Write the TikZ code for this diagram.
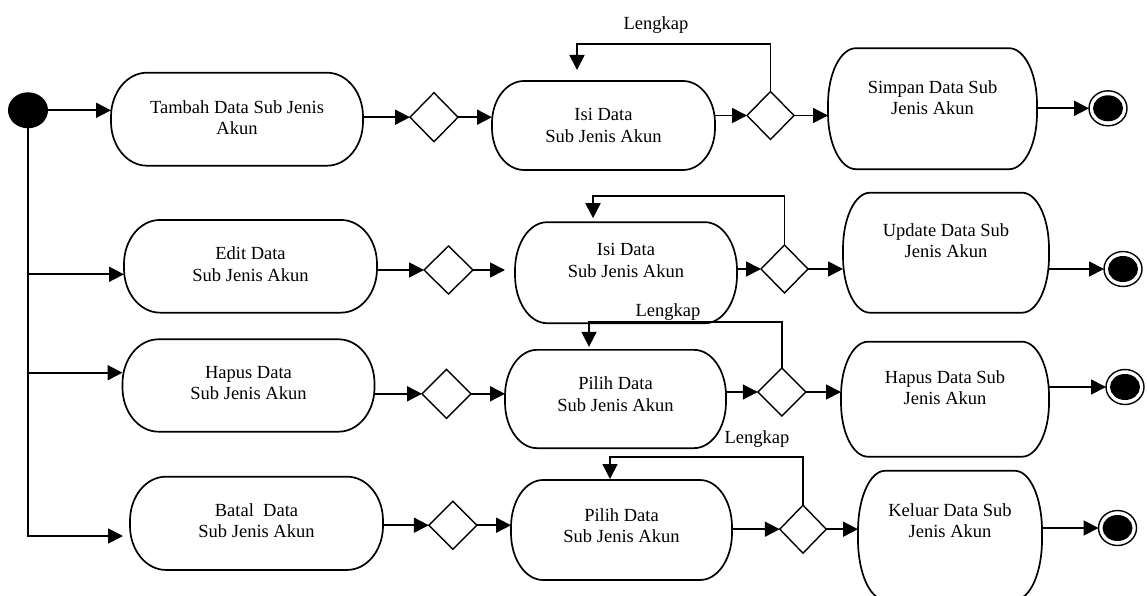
\documentclass[tikz,border=0pt]{standalone}
\usepackage{fontspec}
\setmainfont{Liberation Serif}
\usetikzlibrary{arrows.meta,shapes.geometric}
\newcommand\rbox[3]{%
  \draw[boxline] ([xshift=#2]#1.north west) -- ([xshift=-#2]#1.north east)
    arc[start angle=90,end angle=0,x radius=#2,y radius=#3]
    -- ([yshift=#3]#1.south east)
    arc[start angle=0,end angle=-90,x radius=#2,y radius=#3]
    -- ([xshift=#2]#1.south west)
    arc[start angle=-90,end angle=-180,x radius=#2,y radius=#3]
    -- ([yshift=-#3]#1.north west)
    arc[start angle=180,end angle=90,x radius=#2,y radius=#3]
    -- cycle;}
\begin{document}
\begin{tikzpicture}[x=1pt,y=1pt,
  font=\fontsize{18.5pt}{21.5pt}\selectfont,
  line/.style={line width=1.8pt},
  arr/.style={line width=1.8pt,-{Triangle[length=15pt,width=15pt]}},
  boxline/.style={line width=1.7pt},
  box/.style={rectangle,inner sep=0pt,outer sep=0pt},
  dia/.style={diamond,draw,line width=1.4pt,inner sep=0pt,outer sep=0pt,minimum width=48pt,minimum height=48pt},
  tl/.style={align=center},
  startn/.style={ellipse,fill=black,minimum width=40pt,minimum height=36pt,inner sep=0pt,outer sep=0pt},
  endn/.style={ellipse,draw,line width=1.4pt,minimum width=38pt,minimum height=35pt,inner sep=0pt,outer sep=0pt,
    path picture={\fill[black] (path picture bounding box.center) ellipse [x radius=15pt,y radius=13pt];}}]
\useasboundingbox[fill=white] (0,0) rectangle (1147,-596);

% ---------- row 1 ----------
\node[startn] (s) at (28,-110.3) {};
\node[box,minimum width=252pt,minimum height=93pt,
  label={[tl,yshift=1.7pt]center:{Tambah Data Sub Jenis\\Akun}}] (tambah) at (237,-119.2) {};
\node[dia,minimum height=49pt] (d1) at (434,-117.2) {};
\node[box,minimum width=223pt,minimum height=89pt,
  label={[tl]center:{Isi Data\\Sub Jenis Akun}}] (isi1) at (603.5,-125.5) {};
\node[dia,minimum width=47pt] (d2) at (770.5,-115.5) {};
\node[box,minimum width=209pt,minimum height=121pt,
  label={[tl,yshift=11.2pt]center:{Simpan Data Sub\\Jenis Akun}}] (simpan) at (932.5,-108.7) {};
\node[endn] (e1) at (1108,-108.3) {};
\node (len1) at (656,-25) {Lengkap};
\coordinate (l1) at (577,-44.3);

% ---------- row 2 ----------
\node[box,minimum width=253pt,minimum height=92.7pt,
  label={[tl,yshift=2.3pt]center:{Edit Data\\Sub Jenis Akun}}] (edit) at (250.5,-266.3) {};
\node[dia,minimum width=49pt] (d2a) at (448.5,-270) {};
\node[box,minimum width=222pt,minimum height=101pt,
  label={[tl,yshift=12.4pt]center:{Isi Data\\Sub Jenis Akun}}] (isi2) at (626,-272.7) {};
\node[dia,minimum width=47pt] (d2b) at (784.5,-269) {};
\node[box,minimum width=206pt,minimum height=120pt,
  label={[tl,yshift=11.9pt]center:{Update Data Sub\\Jenis Akun}}] (update) at (946,-252.7) {};
\node[endn] (e2) at (1123,-269) {};
\coordinate (l2) at (593,-195.7);

% ---------- row 3 ----------
\node[box,minimum width=252pt,minimum height=92.4pt,
  label={[tl,yshift=2.5pt]center:{Hapus Data\\Sub Jenis Akun}}] (hapus) at (248.5,-385.5) {};
\node[dia,minimum width=49pt,minimum height=49pt] (d3a) at (446.5,-393.8) {};
\node[box,minimum width=221pt,minimum height=98.3pt,
  label={[tl,yshift=5pt]center:{Pilih Data\\Sub Jenis Akun}}] (pilih3) at (615.5,-399) {};
\node[dia] (d3b) at (781.8,-392) {};
\node[box,minimum width=208pt,minimum height=115pt,
  label={[tl,yshift=11.7pt]center:{Hapus Data Sub\\Jenis Akun}}] (hapussub) at (945,-399.2) {};
\node[endn] (e3) at (1125,-387) {};
\node (len3) at (668,-311.7) {Lengkap};
\coordinate (l3) at (589,-321.7);

% ---------- row 4 ----------
\node[box,minimum width=253pt,minimum height=93.3pt,
  label={[tl,yshift=2.8pt]center:{Batal\ \ Data\\Sub Jenis Akun}}] (batal) at (256.5,-523.3) {};
\node[dia] (d4a) at (452.8,-525.2) {};
\node[box,minimum width=221pt,minimum height=100pt,
  label={[tl,yshift=4.2pt]center:{Pilih Data\\Sub Jenis Akun}}] (pilih4) at (621.5,-530) {};
\node[dia,minimum width=46.5pt] (d4b) at (803,-529.2) {};
\node[box,minimum width=184pt,minimum height=129pt,
  label={[tl,yshift=14.8pt]center:{Keluar Data Sub\\Jenis Akun}}] (keluar) at (950,-535.3) {};
\node[endn] (e4) at (1117.5,-528) {};
\node (len4) at (757,-439.3) {Lengkap};
\coordinate (l4) at (610,-456.7);

% ---------- box outlines ----------
\rbox{tambah}{36pt}{44pt}
\rbox{isi1}{32pt}{42pt}
\rbox{simpan}{28pt}{56pt}
\rbox{edit}{36pt}{44pt}
\rbox{isi2}{32pt}{48pt}
\rbox{update}{27pt}{56pt}
\rbox{hapus}{36pt}{44pt}
\rbox{pilih3}{32pt}{46pt}
\rbox{hapussub}{27pt}{54pt}
\rbox{batal}{36pt}{44pt}
\rbox{pilih4}{32pt}{47pt}
\rbox{keluar}{27pt}{60pt}

% ---------- trunk and branches ----------
\coordinate (c4) at (28,-536);
\draw[arr,shorten >=7pt] (s.south) -- (c4) -- (c4 -| batal.west);
\draw[arr] (s.east) -- (s -| tambah.west);
\coordinate (ae) at ([yshift=-8pt]edit.west);
\draw[arr] (ae -| c4) -- (ae);
\coordinate (ah) at ([yshift=12.8pt]hapus.west);
\draw[arr] (ah -| c4) -- (ah);

% ---------- row 1 flow ----------
\draw[arr] (d1.west -| tambah.east) -- (d1.west);
\draw[arr] (d1.east) -- (d1.east -| isi1.west);
\draw[arr] (d2.west -| isi1.east) -- (d2.west);
\draw[arr] (d2.east) -- (d2.east -| simpan.west);
\draw[arr] (e1.west -| simpan.east) -- (e1.west);
\draw[arr,shorten >=11pt] (d2.north) |- (l1) -- (l1 |- isi1.north);

% ---------- row 2 flow ----------
\draw[arr] (d2a.west -| edit.east) -- (d2a.west);
\draw[arr,shorten >=10pt] (d2a.east) -- (d2a.east -| isi2.west);
\draw[arr] (d2b.west -| isi2.east) -- (d2b.west);
\draw[arr] (d2b.east) -- (d2b.east -| update.west);
\draw[arr] (e2.west -| update.east) -- (e2.west);
\draw[arr,shorten >=4pt] (d2b.north) |- (l2) -- (l2 |- isi2.north);

% ---------- row 3 flow ----------
\draw[arr] (d3a.west -| hapus.east) -- (d3a.west);
\draw[arr] (d3a.east) -- (d3a.east -| pilih3.west);
\draw[arr] (d3b.west -| pilih3.east) -- (d3b.west);
\draw[arr] (d3b.east) -- (d3b.east -| hapussub.west);
\draw[arr] (e3.west -| hapussub.east) -- (e3.west);
\draw[arr,shorten >=3pt] (d3b.north) |- (l3) -- (l3 |- pilih3.north);

% ---------- row 4 flow ----------
\draw[arr] (d4a.west -| batal.east) -- (d4a.west);
\draw[arr] (d4a.east) -- (d4a.east -| pilih4.west);
\draw[arr] (d4b.west -| pilih4.east) -- (d4b.west);
\draw[arr] (d4b.east) -- (d4b.east -| keluar.west);
\draw[arr] (e4.west -| keluar.east) -- (e4.west);
\draw[arr,shorten >=1pt] (d4b.north) |- (l4) -- (l4 |- pilih4.north);
\end{tikzpicture}
\end{document}
